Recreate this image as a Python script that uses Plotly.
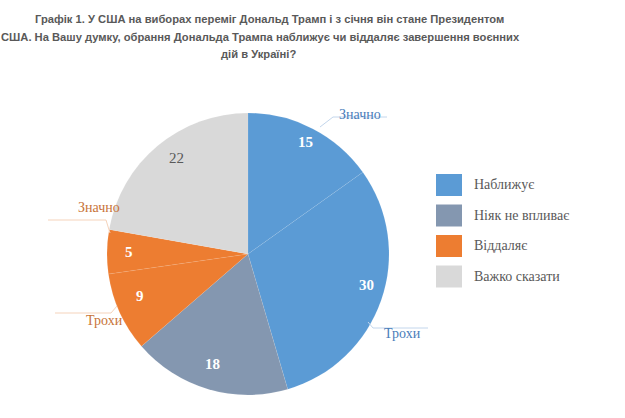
import math
import plotly.graph_objects as go

# ---- data ----
slice_values = [15, 30, 18, 9, 5, 22]
slice_groups = ["Наближує", "Наближує", "Ніяк не впливає", "Віддаляє", "Віддаляє", "Важко сказати"]
slice_sublabels = ["Значно", "Трохи", "", "Трохи", "Значно", ""]
legend_names = ["Наближує", "Ніяк не впливає", "Віддаляє", "Важко сказати"]
group_colors = {"Наближує": "#5B9BD5", "Ніяк не впливає": "#8497B0",
                "Віддаляє": "#ED7D31", "Важко сказати": "#D9D9D9"}
title_lines = ["Графік 1. У США на виборах переміг Дональд Трамп і з січня він стане Президентом",
               "США. На Вашу думку, обрання Дональда Трампа наближує чи віддаляє завершення воєнних",
               "дій в Україні?"]

# ---- layout geometry ----
W, H = 625, 418
cx, cy, R = 248, 254, 141
SERIF = "Liberation Serif, Times New Roman, serif"


def px(x, y):
    return x / W, 1 - y / H


colors = [group_colors[g] for g in slice_groups]
fig = go.Figure()
fig.add_trace(go.Pie(
    values=slice_values,
    labels=[f"{g} {s} {i}" for i, (g, s) in enumerate(zip(slice_groups, slice_sublabels))],
    sort=False, direction="clockwise", rotation=0,
    marker=dict(colors=colors, line=dict(color="rgba(255,255,255,0.15)", width=0.5)),
    textinfo="none", hoverinfo="skip", showlegend=False,
    domain=dict(x=[(cx - R) / W, (cx + R) / W], y=[1 - (cy + R) / H, 1 - (cy - R) / H]),
))

annotations = []
shapes = []
total = sum(slice_values)
acc = 0
for v, g in zip(slice_values, slice_groups):
    mid = (acc + v / 2) / total * 2 * math.pi
    acc += v
    r = 0.89 * R
    x = cx + r * math.sin(mid)
    y = cy - r * math.cos(mid)
    ax, ay = px(x, y)
    dark = g == "Важко сказати"
    annotations.append(dict(
        x=ax, y=ay, xref="paper", yref="paper", showarrow=False,
        text=str(v) if dark else f"<b>{v}</b>",
        font=dict(family=SERIF, size=15, color="#595959" if dark else "white"),
    ))

# outside sub-labels with leader lines
blue_txt, orange_txt = "#4A7DBA", "#C8743A"
blue_line, orange_line = "#C3D6EC", "#F5D3BB"
outside = [
    ("Значно", blue_txt, (360, 105), [(320, 127), (333, 117), (387, 117)], blue_line),
    ("Трохи", blue_txt, (402, 343), [(368, 322), (373, 328), (428, 328)], blue_line),
    ("Значно", orange_txt, (76, 207), [(110, 233), (106, 220), (48, 220)], orange_line),
    ("Трохи", orange_txt, (84, 330), [(117, 306), (111, 313), (55, 313)], orange_line),
]
for txt, col, (tx, ty), pts, lcol in outside:
    ax, ay = px(tx, ty)
    annotations.append(dict(x=ax, y=ay, xref="paper", yref="paper", showarrow=False,
                            text=txt, font=dict(family=SERIF, size=14, color=col)))
    path = " ".join(("M" if i == 0 else "L") + f" {px(*p)[0]} {px(*p)[1]}" for i, p in enumerate(pts))
    shapes.append(dict(type="path", xref="paper", yref="paper", path=path,
                       line=dict(color=lcol, width=1)))

# custom legend
for i, name in enumerate(legend_names):
    yc = 185 + i * 30.5
    x0, y0 = px(436, yc - 11)
    x1, y1 = px(462, yc + 11)
    shapes.append(dict(type="rect", xref="paper", yref="paper", x0=x0, x1=x1, y0=y1, y1=y0,
                       fillcolor=group_colors[name], line=dict(width=0)))
    tx, ty = px(472, yc)
    annotations.append(dict(x=tx, y=ty, xref="paper", yref="paper", showarrow=False,
                            xanchor="left", text=name,
                            font=dict(family=SERIF, size=14, color="#595959")))

# title (three centred lines)
for line, (lx, ly) in zip(title_lines, [(269, 19), (260, 37), (258, 54)]):
    tx, ty = px(lx, ly)
    annotations.append(dict(x=tx, y=ty, xref="paper", yref="paper", showarrow=False,
                            xanchor="center", yanchor="middle", text=f"<b>{line}</b>",
                            font=dict(family="Liberation Sans", size=11.2, color="#595959")))

fig.update_layout(
    width=W, height=H, margin=dict(l=0, r=0, t=0, b=0),
    paper_bgcolor="white", plot_bgcolor="white",
    annotations=annotations, shapes=shapes, showlegend=False,
)
fig.write_html("out.html")
